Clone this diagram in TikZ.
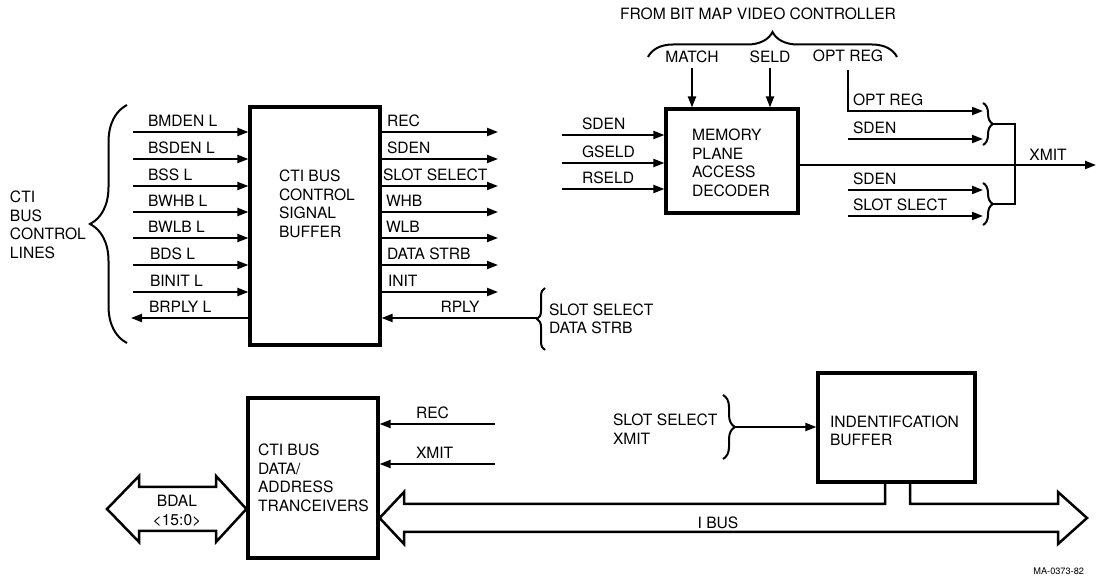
\documentclass[tikz,border=0pt]{standalone}
\usepackage{fontspec}
\setmainfont{TeX Gyre Heros}
\usetikzlibrary{positioning, calc, arrows.meta, decorations.pathreplacing}

\tikzset{
  box/.style={draw, line width=1.6pt, inner sep=0pt},
  sig/.style={line width=1pt},
  sigarrow/.style={-{Triangle[length=5.5pt, width=4pt]}},
  lbl/.style={inner sep=0pt, outer sep=0pt, font=\fontsize{7.8}{9.3}\selectfont},
  brc/.style={decorate, decoration={brace, amplitude=#1}, line width=1pt},
  bus/.style={line width=1.25pt, line join=miter},
}

\begin{document}
\begin{tikzpicture}[x=0.5pt, y=-0.5pt]
  \useasboundingbox (0,0) rectangle (1097,581);

  % boxes
  \node[box, minimum width=65pt, minimum height=119pt] (ctl) at (315,226) {};
  \node[box, minimum width=66pt, minimum height=52pt] (mpad) at (732,161) {};
  \node[box, minimum width=65pt, minimum height=80pt] (xcvr) at (313,478) {};
  \node[box, minimum width=78.5pt, minimum height=54.5pt] (idbuf) at (896.5,427.5) {};

  \node[lbl, align=left, anchor=west] (ctltxt) at (279,204) {CTI BUS\\CONTROL\\SIGNAL\\BUFFER};
  \node[lbl, align=left, anchor=west] (mpadtxt) at (692,163) {MEMORY\\PLANE\\ACCESS\\DECODER};
  \node[lbl, align=left, anchor=west] (xcvrtxt) at (258,478) {CTI BUS\\DATA/\\ADDRESS\\TRANCEIVERS};
  \node[lbl, align=left, anchor=west] (idbuftxt) at (830,431) {INDENTIFCATION\\BUFFER};

  % control lines into the buffer
  \node[lbl, align=left, anchor=west] (lines) at (10,225) {CTI\\BUS\\CONTROL\\LINES};
  \draw[brc=18.5pt] (127,343) -- (127,105);

  \coordinate (ibmden) at (133,132);
  \coordinate (ibsden) at (133,159);
  \coordinate (ibss) at (133,186);
  \coordinate (ibwhb) at (133,212);
  \coordinate (ibwlb) at (133,238);
  \coordinate (ibds) at (133,265);
  \coordinate (ibinit) at (133,292);
  \coordinate (ibrply) at (131,318);

  \draw[sig, sigarrow] (ibmden) -- (ibmden -| ctl.west);
  \draw[sig, sigarrow] (ibsden) -- (ibsden -| ctl.west);
  \draw[sig, sigarrow] (ibss) -- (ibss -| ctl.west);
  \draw[sig, sigarrow] (ibwhb) -- (ibwhb -| ctl.west);
  \draw[sig, sigarrow] (ibwlb) -- (ibwlb -| ctl.west);
  \draw[sig, sigarrow] (ibds) -- (ibds -| ctl.west);
  \draw[sig, sigarrow] (ibinit) -- (ibinit -| ctl.west);
  \draw[sig, sigarrow] (ibrply -| ctl.west) -- (ibrply);

  \node[lbl, above right=2.5pt and 7.5pt of ibmden] (lbmden) {BMDEN L};
  \node[lbl, above right=2.5pt and 7.5pt of ibsden] (lbsden) {BSDEN L};
  \node[lbl, above right=2.5pt and 7.5pt of ibss] (lbss) {BSS L};
  \node[lbl, above right=2.5pt and 7.5pt of ibwhb] (lbwhb) {BWHB L};
  \node[lbl, above right=2.5pt and 7.5pt of ibwlb] (lbwlb) {BWLB L};
  \node[lbl, above right=2.5pt and 8.5pt of ibds] (lbds) {BDS L};
  \node[lbl, above right=2.5pt and 8.5pt of ibinit] (lbinit) {BINIT L};
  \node[lbl, above right=2.5pt and 9pt of ibrply] (lbrply) {BRPLY L};

  % buffer outputs
  \coordinate (orec) at (498,132);
  \coordinate (osden) at (498,159);
  \coordinate (oslot) at (498,186);
  \coordinate (owhb) at (498,212);
  \coordinate (owlb) at (498,238);
  \coordinate (ostrb) at (498,265);
  \coordinate (oinit) at (498,292);

  \draw[sig, sigarrow] (orec -| ctl.east) -- (orec);
  \draw[sig, sigarrow] (osden -| ctl.east) -- (osden);
  \draw[sig, sigarrow] (oslot -| ctl.east) -- (oslot);
  \draw[sig, sigarrow] (owhb -| ctl.east) -- (owhb);
  \draw[sig, sigarrow] (owlb -| ctl.east) -- (owlb);
  \draw[sig, sigarrow] (ostrb -| ctl.east) -- (ostrb);
  \draw[sig, sigarrow] (oinit -| ctl.east) -- (oinit);

  \node[lbl, anchor=base west] (lorec) at (387,127) {REC};
  \node[lbl, anchor=base west] (losden) at (387,154) {SDEN};
  \node[lbl, anchor=base west] (loslot) at (383,181) {SLOT SELECT};
  \node[lbl, anchor=base west] (lowhb) at (386,207) {WHB};
  \node[lbl, anchor=base west] (lowlb) at (386,233) {WLB};
  \node[lbl, anchor=base west] (lostrb) at (387,260) {DATA STRB};
  \node[lbl, anchor=base west] (loinit) at (388,287) {INIT};

  % reply
  \coordinate (rply) at (537,318);
  \draw[sig, sigarrow] (rply) -- (rply -| ctl.east);
  \node[lbl, anchor=base] (lrply) at (460,313) {RPLY};
  \draw[brc=4pt] (545,350) -- (545,288);
  \node[lbl, align=left, anchor=west] (lslotstrb) at (549,319) {SLOT SELECT\\DATA STRB};

  % memory plane access decoder
  \node[lbl, anchor=base] (lfrom) at (758,20) {FROM BIT MAP VIDEO CONTROLLER};
  \draw[brc=12.5pt] (648,57) -- (897,57);

  \coordinate (match) at (692,68);
  \coordinate (seld) at (770,68);
  \coordinate (optreg) at (848,70);
  \draw[sig, sigarrow] (match) -- (match |- mpad.north);
  \draw[sig, sigarrow] (seld) -- (seld |- mpad.north);
  \node[lbl, above=2.5pt of match] (lmatch) {MATCH};
  \node[lbl, above=2.5pt of seld] (lseld) {SELD};
  \node[lbl, above=4pt of optreg] (loptreg) {OPT REG};

  \coordinate (msden) at (562,135);
  \coordinate (mgseld) at (562,163);
  \coordinate (mrseld) at (562,189);
  \draw[sig, sigarrow] (msden) -- (msden -| mpad.west);
  \draw[sig, sigarrow] (mgseld) -- (mgseld -| mpad.west);
  \draw[sig, sigarrow] (mrseld) -- (mrseld -| mpad.west);
  \node[lbl, above right=2.5pt and 10pt of msden] (lmsden) {SDEN};
  \node[lbl, above right=2.5pt and 10pt of mgseld] (lmgseld) {GSELD};
  \node[lbl, above right=2.5pt and 10pt of mrseld] (lmrseld) {RSELD};

  % xmit logic
  \coordinate (xopt) at (983,111);
  \coordinate (xsden) at (983,139);
  \coordinate (xsden2) at (983,190);
  \coordinate (xslot) at (983,216);
  \draw[sig, sigarrow] (optreg) |- (xopt);
  \draw[sig, sigarrow] (xsden -| optreg) -- (xsden);
  \draw[sig, sigarrow] (xsden2 -| optreg) -- (xsden2);
  \draw[sig, sigarrow] (xslot -| optreg) -- (xslot);
  \node[lbl, anchor=base west] (lxopt) at (853,106) {OPT REG};
  \node[lbl, anchor=base west] (lxsden) at (853,134) {SDEN};
  \node[lbl, anchor=base west] (lxsden2) at (853,185) {SDEN};
  \node[lbl, anchor=base west] (lxslot) at (853,211) {SLOT SLECT};

  \draw[brc=5pt] (983,103) -- (983,145);
  \draw[brc=5pt] (983,183) -- (983,225);
  \coordinate (bru) at (993,124);
  \coordinate (brl) at (993,204);
  \coordinate (brj) at (1015,165);
  \draw[sig] (bru) -| (brj) |- (brl);

  \coordinate (xmit) at (1096,165);
  \draw[sig, sigarrow] (xmit -| mpad.east) -- (xmit);
  \node[lbl, anchor=base] (lxmit) at (1048,161) {XMIT};

  % transceivers
  \coordinate (trec) at (495,424);
  \coordinate (txmit) at (495,464);
  \draw[sig, sigarrow] (trec) -- (trec -| xcvr.east);
  \draw[sig, sigarrow] (txmit) -- (txmit -| xcvr.east);
  \node[lbl, anchor=base west] (ltrec) at (416,419) {REC};
  \node[lbl, anchor=base west] (ltxmit) at (416,459) {XMIT};

  \coordinate (bdall) at (107,509);
  \coordinate (bdalr) at (xcvr.west |- 0,509);
  \draw[bus] (bdall) -- (139,476) -- (139,487) -- (216,487) -- (216,476) -- (bdalr)
    -- (216,542) -- (216,531) -- (139,531) -- (139,542) -- cycle;
  \node[lbl, align=center] (lbdal) at (177,511) {BDAL\\\textless15:0\textgreater};

  % identification buffer
  \draw[brc=6pt] (723,395) -- (723,459);
  \node[lbl, align=left, anchor=west] (lslotxmit) at (613,429) {SLOT SELECT\\XMIT};
  \coordinate (sxtip) at (735,427);
  \draw[sig, sigarrow] (sxtip) -- (sxtip -| idbuf.west);

  \coordinate (stuba) at (idbuf.south -| 885,0);
  \coordinate (stubb) at (idbuf.south -| 910,0);
  \coordinate (ibusl) at (xcvr.east |- 0,518);
  \coordinate (ibusr) at (1087,518);
  \draw[bus] (stuba) -- (885,504) -- (404,504) -- (404,492) -- (ibusl) -- (404,544)
    -- (404,532) -- (1058,532) -- (1058,544) -- (ibusr) -- (1058,492) -- (1058,504)
    -- (910,504) -- (stubb);
  \node[lbl, anchor=base] (libus) at (718,529) {I BUS};

  \node[lbl, anchor=base east, font=\fontsize{4.6}{5}\selectfont] (mano) at (1084,575) {MA-0373-82};
\end{tikzpicture}
\end{document}
